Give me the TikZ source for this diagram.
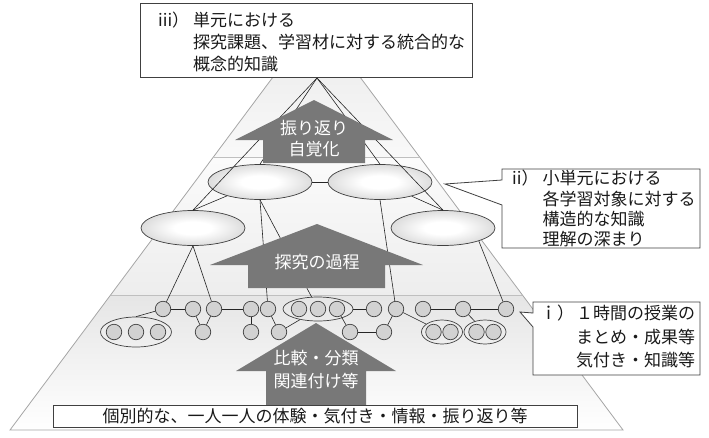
\documentclass[tikz,border=0pt]{standalone}
\usepackage{fontspec}
\setmainfont{Noto Sans CJK JP}
\usetikzlibrary{shapes.geometric}
\definecolor{arrowgray}{RGB}{120,120,120}
\definecolor{edgegray}{RGB}{64,64,64}
\definecolor{ellgray}{RGB}{212,212,212}
\pgfdeclareradialshading{ellglow}{\pgfpoint{0bp}{0bp}}{color(0bp)=(white); color(9bp)=(white); color(29bp)=(ellgray); color(50bp)=(ellgray)}
\tikzset{
  ln/.style={draw=black!85, line width=0.6pt},
  bigell/.style={ellipse, draw=edgegray, line width=0.7pt, shading=ellglow, minimum width=104pt, minimum height=35pt, inner sep=0pt},
  sm/.style={circle, draw=edgegray, line width=0.7pt, fill=gray!35, minimum size=15.5pt, inner sep=0pt},
  grp/.style={ellipse, draw=edgegray, line width=0.7pt, inner sep=0pt},
  box/.style={draw=edgegray, line width=0.8pt, fill=white, inner sep=0pt},
  txt/.style={inner sep=0pt, text=black!90, font=\fontsize{17}{22}\selectfont},
  wtxt/.style={inner sep=0pt, text=white, font=\fontsize{17}{21}\selectfont},
  bigarrow/.style={fill=arrowgray},
  pyr/.style={draw=gray!70, line width=0.8pt},
  divider/.style={draw=gray!50, line width=0.8pt}
}
\begin{document}
\begin{tikzpicture}[x=1pt,y=-1pt]
\useasboundingbox (0,0) rectangle (709,437);
% pyramid tiers
\shade[top color=gray!12, bottom color=gray!5] (273,77) -- (360,77) -- (419.6,157) -- (213.4,157) -- cycle;
\shade[top color=gray!3, bottom color=gray!14] (213.4,157) -- (419.6,157) -- (522.4,295) -- (110.6,295) -- cycle;
\shade[top color=gray!20, bottom color=white] (110.6,295) -- (522.4,295) -- (623,430) -- (10,430) -- cycle;
\draw[pyr] (273,77) -- (10,430) -- (623,430) -- (360,77);
\draw[divider] (213.4,157) -- (419.6,157);
\draw[divider] (110.6,295) -- (522.4,295);
% big ellipses
\node[bigell, shade] (A) at (260,182) {};
\node[bigell, shade] (B) at (380,182) {};
\node[bigell, shade] (C) at (193,228) {};
\node[bigell, shade] (D) at (443,228) {};
\coordinate (apex) at (317,78);
% group ellipses
\node[grp, minimum width=71pt, minimum height=30pt] (g1) at (136,332) {};
\node[grp, minimum width=70pt, minimum height=24pt] (g2) at (318,309) {};
\node[grp, minimum width=41pt, minimum height=24pt] (g3) at (442,332) {};
\node[grp, minimum width=42pt, minimum height=24pt] (g4) at (485,332) {};
% small circles row 1
\node[sm] (n1) at (163,309) {};
\node[sm] (n2) at (193,309) {};
\node[sm] (n3) at (214,309) {};
\node[sm] (n4) at (251,309) {};
\node[sm] (n5) at (268,309) {};
\node[sm] (c1) at (299,309) {};
\node[sm] (c2) at (318,309) {};
\node[sm] (c3) at (337,309) {};
\node[sm] (p1) at (374,309) {};
\node[sm] (p2) at (396,309) {};
\node[sm] (p3) at (423,309) {};
\node[sm] (p4) at (463,309) {};
\node[sm] (p5) at (506,309) {};
% small circles row 2
\node[sm] (l1) at (114,332) {};
\node[sm] (l2) at (136,332) {};
\node[sm] (l3) at (158,332) {};
\node[sm] (m1) at (203,332) {};
\node[sm] (m2) at (251,332) {};
\node[sm] (m3) at (279,332) {};
\node[sm] (q1) at (350,332) {};
\node[sm] (q2) at (384,332) {};
\node[sm] (r1) at (433.5,332) {};
\node[sm] (r2) at (450.5,332) {};
\node[sm] (s1) at (476.5,332) {};
\node[sm] (s2) at (493.5,332) {};
% connectors
\draw[ln] (apex) -- (A.north);
\draw[ln] (apex) -- (B.north);
\draw[ln] (apex) -- (C.north);
\draw[ln] (apex) -- (D.north);
\draw[ln] (A) -- (C.north);
\draw[ln] (B) -- (D.north);
\draw[ln] (A) -- (B);
\draw[ln] (C.south) -- (n1);
\draw[ln] (C.south) -- (n3);
\draw[ln] (A.south) -- (n5);
\draw[ln] (A.south) -- (g2);
\draw[ln] (B.south) -- (p2);
\draw[ln] (D.-20) -- (p5);
\draw[ln] (n1) -- (n2);
\draw[ln] (n3) -- (n4);
\draw[ln] (n2) -- (m1);
\draw[ln] (n3) -- (m1);
\draw[ln] (n4) -- (m2);
\draw[ln] (n5) -- (m3);
\draw[ln] (n1) -- (g1.north);
\draw[ln] (m3) -- (g2);
\draw[ln] (g2) -- (p1);
\draw[ln] (c3) -- (q1);
\draw[ln] (q1) -- (q2);
\draw[ln] (q2) -- (p2);
\draw[ln] (p2) -- (g3);
\draw[ln] (p3) -- (p4);
\draw[ln] (p4) -- (p5);
\draw[ln] (p4) -- (g4);
% big arrows
\fill[bigarrow] (314,100) -- (393,140) -- (365,140) -- (365,163) -- (263,163) -- (263,140) -- (235,140) -- cycle;
\fill[bigarrow] (317,224) -- (423,265) -- (385,265) -- (385,288) -- (248,288) -- (248,265) -- (210,265) -- cycle;
\fill[bigarrow] (316,323) -- (396,371) -- (366,371) -- (366,405) -- (266,405) -- (266,371) -- (236,371) -- cycle;
\node[wtxt, anchor=base] (a1t) at (314,134.5) {\begin{tabular}[t]{@{}c@{}}振り返り\\自覚化\end{tabular}};
\node[wtxt, anchor=base] (a2t) at (317,268.5) {探究の過程};
\node[wtxt, font=\fontsize{17}{23}\selectfont, anchor=base] (a3t) at (316,364.5) {\begin{tabular}[t]{@{}c@{}}比較・分類\\関連付け等\end{tabular}};
% boxes
\node[box, minimum width=332pt, minimum height=74pt, anchor=north west] (topbox) at (140,3) {};
\node[txt, anchor=base west] (t3) at (158,26.5) {\begin{tabular}[t]{@{}l@{\hspace{4pt}}l@{}}iii）&単元における\\&探究課題、学習材に対する統合的な\\&概念的知識\end{tabular}};
\node[box, minimum width=524pt, minimum height=22pt, anchor=north west] (botbox) at (53,405) {};
\node[txt, anchor=base] (t0) at (315,422.5) {個別的な、一人一人の体験・気付き・情報・振り返り等};
% callout ii
\filldraw[box] (502,169) -- (700,169) -- (700,248) -- (502,248) -- (502,205) -- (445,184) -- (502,180) -- cycle;
\node[txt, font=\fontsize{17}{20.3}\selectfont, anchor=base west] (t2) at (512,184.5) {\begin{tabular}[t]{@{}l@{\hspace{4pt}}l@{}}ii）&小単元における\\&各学習対象に対する\\&構造的な知識\\&理解の深まり\end{tabular}};
% callout i
\filldraw[box] (533,302) -- (700,302) -- (700,375) -- (533,375) -- (533,327) -- (520,312) -- (533,313) -- cycle;
\node[txt, font=\fontsize{17}{23.5}\selectfont, anchor=base west] (t1) at (540,319.5) {\begin{tabular}[t]{@{}l@{\hspace{2pt}}l@{}}ｉ）&１時間の授業の\\&まとめ・成果等\\&気付き・知識等\end{tabular}};
\end{tikzpicture}
\end{document}
